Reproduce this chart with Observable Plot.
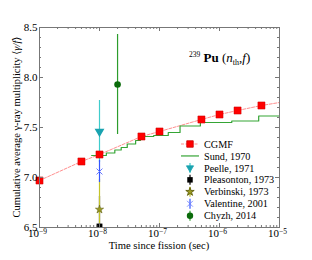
<!DOCTYPE html>
<html><head><meta charset="utf-8">
<script src="https://cdn.jsdelivr.net/npm/d3@7"></script>
<script src="https://cdn.jsdelivr.net/npm/@observablehq/plot@0.6"></script>
<style>body{margin:0;background:#fff}</style>
</head><body><div id="chart"></div>
<script>
// CGMF calculation (squares) and its dashed curve
const cgmfTime = [1e-9, 5e-9, 1e-8, 5e-8, 1e-7, 5e-7, 1e-6, 2e-6, 5e-6];
const cgmfValue = [6.97, 7.16, 7.23, 7.41, 7.46, 7.58, 7.63, 7.67, 7.72];
const cgmfCurveTime = [1e-9, 5e-9, 1e-8, 5e-8, 1e-7, 5e-7, 1e-6, 2e-6, 5e-6, 1e-5];
const cgmfCurveValue = [6.97, 7.16, 7.23, 7.41, 7.46, 7.58, 7.63, 7.67, 7.72, 7.75];
// Sund, 1970 (step curve)
const sundTime = [7.4e-9, 1.3e-8, 1.8e-8, 2.3e-8, 2.9e-8, 4.0e-8, 4.8e-8, 8.0e-8, 1.4e-7, 2.2e-7, 4.8e-7, 1.6e-6, 4.5e-6, 1e-5];
const sundValue = [7.22, 7.245, 7.275, 7.30, 7.335, 7.37, 7.41, 7.42, 7.45, 7.515, 7.55, 7.565, 7.615, 7.615];
// experiments: time, value, error
const peelle = {t: 1e-8, v: 7.46, e: 0.31};
const pleasonton = {t: 1e-8, v: 6.51, e: 0.30};
const verbinski = {t: 1e-8, v: 6.68, e: 0.30};
const valentine = {t: 1e-8, v: 7.06, e: 0.11};
const chyzh = {t: 2e-8, v: 7.93, e: 0.50};
// axes
const xMajor = [1e-9, 1e-8, 1e-7, 1e-6, 1e-5];
const xTickExponents = ["\u22129", "\u22128", "\u22127", "\u22126", "\u22125"];
const yMajor = [6.5, 7.0, 7.5, 8.0, 8.5];
const yTickLabels = ["6.5", "7.0", "7.5", "8.0", "8.5"];
const yMinor = [6.6, 6.7, 6.8, 6.9, 7.1, 7.2, 7.3, 7.4, 7.6, 7.7, 7.8, 7.9, 8.1, 8.2, 8.3, 8.4];
const xMinor = [];
for (const dec of [1e-9, 1e-8, 1e-7, 1e-6]) for (const m of [2,3,4,5,6,7,8,9]) xMinor.push(m * dec);

const legendLabels = ["CGMF", "Sund, 1970", "Peelle, 1971", "Pleasonton, 1973", "Verbinski, 1973", "Valentine, 2001", "Chyzh, 2014"];

const C = {
  cgmf: "#ff0000", cgmfLine: "#ff8f8f", sund: "#35a535",
  peelleBar: "#40cccc", peelle: "#1aa3b0", pleas: "#000000",
  verbBar: "#c4c42a", verb: "#9a9a22", valBar: "#3355ff", val: "#6677ff",
  chyBar: "#2c9c2c", chy: "#0b6b0b", axis: "#777"
};

const cgmf = cgmfTime.map((t, i) => ({t, v: cgmfValue[i]}));
const cgmfCurve = cgmfCurveTime.map((t, i) => ({t, v: cgmfCurveValue[i]}));
const sund = sundTime.map((t, i) => ({t, v: sundValue[i]}));

const bar = (d, color) => Plot.ruleX([d], {x: "t", y1: r => r.v - r.e, y2: r => r.v + r.e, stroke: color, strokeWidth: 1.2, clip: true});

const W = 312, H = 260, ML = 39, MR = 33, MT = 27, MB = 33;
const fw = W - ML - MR, fh = H - MT - MB;

const plot = Plot.plot({
  width: W, height: H,
  marginLeft: ML, marginRight: MR, marginTop: MT, marginBottom: MB,
  style: {fontFamily: "'Liberation Serif', 'DejaVu Serif', serif", fontSize: "10.5px", background: "white", color: "black"},
  x: {type: "log", domain: [1e-9, 1e-5]},
  y: {domain: [6.5, 8.5]},
  marks: [
    Plot.line(cgmfCurve, {x: "t", y: "v", stroke: C.cgmfLine, strokeWidth: 1, strokeDasharray: "3,1.5", clip: true}),
    Plot.line(sund, {x: "t", y: "v", curve: "step-after", stroke: C.sund, strokeWidth: 1.2, clip: true}),
    bar(peelle, C.peelleBar),
    bar(pleasonton, C.pleas),
    bar(verbinski, C.verbBar),
    bar(valentine, C.valBar),
    bar(chyzh, C.chyBar),
    Plot.dot([peelle], {x: "t", y: "v", symbol: "triangle", rotate: 180, r: 2.7, fill: C.peelle, stroke: C.peelle}),
    Plot.dot([pleasonton], {x: "t", y: "v", symbol: "square", r: 3.3, fill: C.pleas, clip: true}),
    Plot.dot([verbinski], {x: "t", y: "v", symbol: "star", r: 2.6, fill: C.verb, stroke: "#555500", strokeWidth: 0.5}),
    Plot.dot([valentine], {x: "t", y: "v", symbol: "times", r: 2.8, stroke: C.val, strokeWidth: 1}),
    Plot.dot([chyzh], {x: "t", y: "v", symbol: "circle", r: 3.3, fill: C.chy}),
    Plot.dot(cgmf, {x: "t", y: "v", symbol: "square", r: 4, fill: C.cgmf, stroke: "#cc0000", strokeWidth: 0.5}),
    Plot.frame({stroke: C.axis}),
    Plot.tickX(xMajor, {insetTop: fh - 4, stroke: C.axis}),
    Plot.tickX(xMajor, {insetBottom: fh - 4, stroke: C.axis}),
    Plot.tickX(xMinor, {insetTop: fh - 2, stroke: C.axis}),
    Plot.tickX(xMinor, {insetBottom: fh - 2, stroke: C.axis}),
    Plot.tickY(yMajor, {insetRight: fw - 4, stroke: C.axis}),
    Plot.tickY(yMajor, {insetLeft: fw - 4, stroke: C.axis}),
    Plot.tickY(yMinor, {insetRight: fw - 2, stroke: C.axis}),
    Plot.tickY(yMinor, {insetLeft: fw - 2, stroke: C.axis}),
    Plot.axisX(xMajor, {tickSize: 0, tickPadding: 2, tickFormat: d => "10", label: null, fill: "black", fontSize: 11, dx: -2}),
    Plot.axisY(yMajor, {tickSize: 0, tickPadding: 2, tickFormat: d => yTickLabels[yMajor.indexOf(d)], label: null, fill: "black", fontSize: 11})
  ]
});
document.getElementById("chart").appendChild(plot);

const svg = d3.select(plot);
const font = "'Liberation Serif', 'DejaVu Serif', serif";
// superscript exponents on x tick labels
svg.selectAll('g[aria-label="x-axis tick label"] text').each(function(d, i) {
  const el = d3.select(this);
  el.append("tspan").attr("font-size", 7.5).attr("dy", "-0.45em").text(xTickExponents[i]);
});
// axis labels
svg.append("text").attr("x", ML + fw / 2).attr("y", 248.5).attr("text-anchor", "middle")
  .attr("font-family", font).attr("font-size", 10.6).attr("font-weight", "normal").attr("fill", "black").text("Time since fission (sec)");
const yl = svg.append("text").attr("transform", `translate(20,${MT + fh / 2}) rotate(-90)`).attr("text-anchor", "middle")
  .attr("font-family", font).attr("font-size", 10.5).attr("fill", "black");
yl.append("tspan").text("Cumulative average \u03B3-ray multiplicity \u27E8");
yl.append("tspan").attr("font-style", "italic").text("\u03B3/f");
yl.append("tspan").text("\u27E9");

// annotation
const ann = svg.append("text").attr("x", 189).attr("y", 62).attr("text-anchor", "start").attr("font-family", font).attr("font-size", 13).attr("fill", "black");
ann.append("tspan").attr("font-size", 7.5).attr("dy", -5).text("239");
ann.append("tspan").attr("dy", 5).attr("font-weight", "bold").text(" Pu ");
ann.append("tspan").text("(");
ann.append("tspan").attr("font-style", "italic").text("n");
ann.append("tspan").attr("font-size", 8).attr("dy", 2.5).text("th");
ann.append("tspan").attr("dy", -2.5).text(",");
ann.append("tspan").attr("font-style", "italic").text("f");
ann.append("tspan").text(")");

// legend
const lx = 190, tx = 204, ly0 = 144, lstep = 11.95;
const lg = svg.append("g");
legendLabels.forEach((lab, i) => {
  const y = ly0 + i * lstep;
  lg.append("text").attr("x", tx).attr("y", y + 3.6).attr("text-anchor", "start").attr("font-family", font).attr("font-size", 10.2).attr("fill", "black").text(lab);
  const sym = (type, size, fill, stroke, rot) => lg.append("path")
    .attr("d", d3.symbol(type, size)()).attr("transform", `translate(${lx},${y}) rotate(${rot || 0})`)
    .attr("fill", fill).attr("stroke", stroke || "none").attr("stroke-width", 0.8);
  const vbar = (color) => lg.append("line").attr("x1", lx).attr("x2", lx).attr("y1", y - 5).attr("y2", y + 5).attr("stroke", color).attr("stroke-width", 1.2);
  if (i === 0) {
    lg.append("line").attr("x1", lx - 9).attr("x2", lx + 9).attr("y1", y).attr("y2", y).attr("stroke", C.cgmfLine).attr("stroke-dasharray", "3,1.5");
    sym(d3.symbolSquare, 42, C.cgmf, "#cc0000");
  } else if (i === 1) {
    lg.append("line").attr("x1", lx - 9).attr("x2", lx + 9).attr("y1", y).attr("y2", y).attr("stroke", C.sund).attr("stroke-width", 1.2);
  } else if (i === 2) { vbar(C.peelleBar); sym(d3.symbolTriangle, 22, C.peelle, C.peelle, 180); }
  else if (i === 3) { vbar(C.pleas); sym(d3.symbolSquare, 30, C.pleas); }
  else if (i === 4) { vbar(C.verbBar); sym(d3.symbolStar, 22, C.verb, "#555500"); }
  else if (i === 5) { vbar(C.valBar); sym(d3.symbolTimes, 24, "none", C.val); }
  else if (i === 6) { vbar(C.chyBar); sym(d3.symbolCircle, 32, C.chy); }
});
</script></body></html>
